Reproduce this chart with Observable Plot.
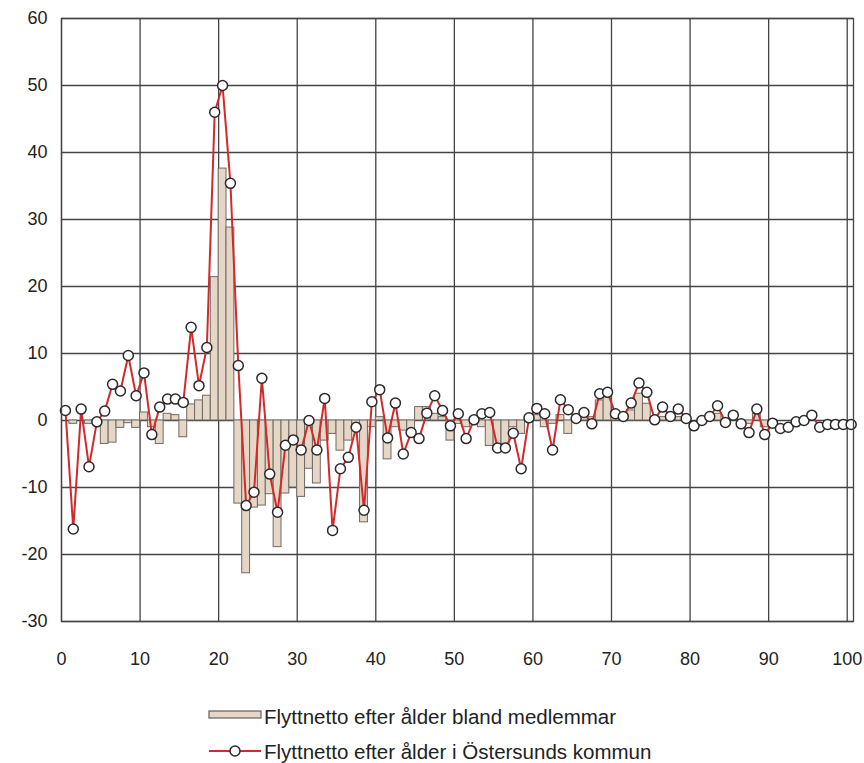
<!DOCTYPE html>
<html><head><meta charset="utf-8">
<script src="https://cdn.jsdelivr.net/npm/d3@7"></script>
<script src="https://cdn.jsdelivr.net/npm/@observablehq/plot@0.6"></script>
<style>
body{margin:0;background:#fff;font-family:"Liberation Sans",Arial,sans-serif;}
#chart svg{display:block;}
</style></head><body>
<div id="chart"></div>
<div id="legend"></div>
<script>
const ages = d3.range(0, 101);
const members = [
  0, -0.5, 0, -0.5, 0, -3.5, -3.3, -1.1, -0.4, -1.1,
  1.2, -1, -3.5, 1, 0.8, -2.5, 2.4, 3, 3.7, 21.4,
  37.6, 28.8, -12.4, -22.8, -13, -12.7, -11, -18.9, -10.9, -10,
  -11.4, -7.2, -9.4, -3, -2, -4.5, -3, -1, -15.2, -1,
  0.5, -5.8, -1, -1.5, -1.5, 2, 2, 1, 0.5, -3,
  -0.5, -1, 0.5, -1, -3.8, -4, -3.5, -1, -2, 0,
  0.8, -1, -0.5, 0.8, -2, 0.5, 1, 0.5, 3, 3.5,
  0.5, 0.5, 1.5, 4, 2.5, 0.5, 0.5, 0.5, 0.5, 0,
  0, 0, 0.5, 1, 0, 0.5, 0, -0.5, 1, -1,
  0, 0, 0, 0, 0, 0, 0, 0, 0, 0, 0
];
const kommun = [
  1.5, -16.2, 1.7, -6.9, -0.2, 1.4, 5.4, 4.4, 9.7, 3.7,
  7.1, -2.1, 2, 3.2, 3.2, 2.7, 13.9, 5.2, 10.9, 46,
  50, 35.4, 8.2, -12.7, -10.7, 6.3, -8, -13.7, -3.7, -2.9,
  -4.4, 0, -4.4, 3.3, -16.4, -7.2, -5.5, -1, -13.4, 2.8,
  4.6, -2.6, 2.6, -5, -1.8, -2.7, 1.1, 3.7, 1.5, -0.8,
  1, -2.7, 0.1, 1, 1.2, -4.1, -4.1, -1.9, -7.2, 0.4,
  1.8, 1, -4.4, 3.1, 1.6, 0.3, 1.2, -0.5, 4, 4.2,
  1, 0.6, 2.6, 5.6, 4.2, 0.1, 2, 0.6, 1.7, 0.3,
  -0.8, 0, 0.6, 2.2, -0.3, 0.8, -0.5, -1.8, 1.7, -2.1,
  -0.4, -1.2, -1, -0.2, 0, 0.8, -1, -0.6, -0.6, -0.6, -0.6
];
const xTicks = [0, 10, 20, 30, 40, 50, 60, 70, 80, 90, 100];
const yTicks = [-30, -20, -10, 0, 10, 20, 30, 40, 50, 60];
const legendLabels = [
  "Flyttnetto efter ålder bland medlemmar",
  "Flyttnetto efter ålder i Östersunds kommun"
];

const barFill = "#e6d6c5", barStroke = "#6f6a66";
const lineColor = "#d12a2a", gridColor = "#444";

const rows = ages.map((a, i) => ({age: a, end: a + 1, mid: a + 0.5, members: members[i], kommun: kommun[i]}));

const chart = Plot.plot({
  width: 864,
  height: 690,
  marginLeft: 61,
  marginRight: 11,
  marginTop: 18,
  marginBottom: 69,
  style: {fontFamily: "Liberation Sans, Arial, sans-serif", fontSize: "18px", color: "#222", background: "#fff"},
  x: {domain: [0, 100.8], ticks: xTicks},
  y: {domain: [-30, 60], ticks: yTicks},
  marks: [
    Plot.gridX(xTicks, {stroke: gridColor, strokeOpacity: 1, strokeWidth: 1.3}),
    Plot.gridY(yTicks, {stroke: gridColor, strokeOpacity: 1, strokeWidth: 1.3}),
    Plot.rect(rows, {x1: "age", x2: "end", y1: () => 0, y2: "members", fill: barFill, stroke: barStroke, strokeWidth: 1}),
    Plot.line(rows, {x: "mid", y: "kommun", stroke: lineColor, strokeWidth: 2}),
    Plot.dot(rows, {x: "mid", y: "kommun", r: 5, fill: "white", stroke: "#2a2a2a", strokeWidth: 1.5}),
    Plot.frame({stroke: gridColor, strokeWidth: 1.3}),
    Plot.axisX(xTicks, {tickSize: 0, tickPadding: 31, label: null, fontSize: 18, fill: "#222", tickFormat: d => String(d)}),
    Plot.axisY(yTicks, {tickSize: 0, tickPadding: 14, label: null, fontSize: 18, fill: "#222", tickFormat: d => String(d)})
  ]
});
document.getElementById("chart").appendChild(chart);

// legend below the SVG
const lg = d3.select("#legend").append("svg")
  .attr("width", 864).attr("height", 73)
  .style("display", "block")
  .style("font-family", "Liberation Sans, Arial, sans-serif");
lg.append("rect").attr("x", 209).attr("y", 21).attr("width", 52).attr("height", 7)
  .attr("fill", barFill).attr("stroke", barStroke).attr("stroke-width", 1.3);
lg.append("text").attr("x", 264).attr("y", 26).attr("dominant-baseline", "central")
  .attr("font-size", 20.5).attr("fill", "#222").text(legendLabels[0]);
lg.append("line").attr("x1", 209).attr("x2", 261).attr("y1", 61).attr("y2", 61)
  .attr("stroke", lineColor).attr("stroke-width", 2);
lg.append("circle").attr("cx", 235).attr("cy", 61).attr("r", 5)
  .attr("fill", "white").attr("stroke", "#2a2a2a").attr("stroke-width", 1.5);
lg.append("text").attr("x", 264).attr("y", 61).attr("dominant-baseline", "central")
  .attr("font-size", 20.5).attr("fill", "#222").text(legendLabels[1]);
</script>
</body></html>
